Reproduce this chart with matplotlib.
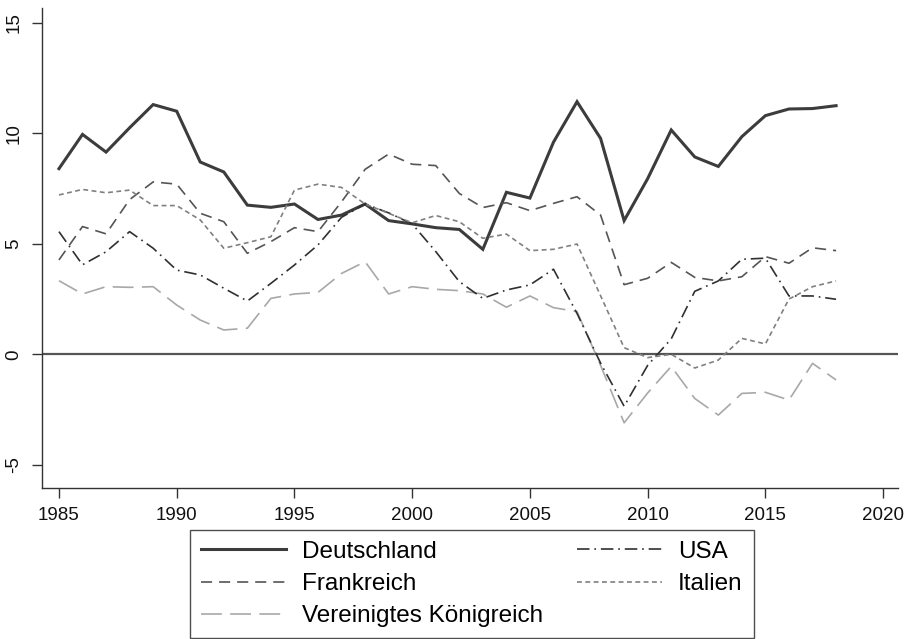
import matplotlib
matplotlib.use("Agg")
import matplotlib.pyplot as plt

plt.rcParams['font.family'] = ['Liberation Sans', 'DejaVu Sans']
plt.rcParams['lines.scale_dashes'] = False

years = list(range(1985, 2019))
deutschland = [8.4, 9.95, 9.15, 10.25, 11.3, 11.0, 8.7, 8.25, 6.75, 6.65,
               6.8, 6.1, 6.3, 6.8, 6.05, 5.9, 5.73, 5.65, 4.75, 7.33,
               7.07, 9.6, 11.43, 9.77, 6.05, 7.95, 10.15, 8.93, 8.5, 9.85,
               10.8, 11.1, 11.12, 11.25]
frankreich = [4.27, 5.78, 5.45, 7.0, 7.8, 7.7, 6.38, 6.0, 4.57, 5.1,
              5.73, 5.55, 6.9, 8.37, 9.06, 8.6, 8.54, 7.28, 6.64, 6.86,
              6.5, 6.83, 7.13, 6.3, 3.15, 3.44, 4.16, 3.48, 3.32, 3.51,
              4.42, 4.12, 4.82, 4.69]
usa = [5.55, 4.05, 4.64, 5.55, 4.8, 3.81, 3.59, 2.99, 2.41, 3.21,
       4.04, 4.95, 6.2, 6.8, 6.4, 5.9, 4.65, 3.29, 2.53, 2.91,
       3.14, 3.85, 1.85, -0.4, -2.35, -0.5, 0.7, 2.85, 3.32, 4.3,
       4.35, 2.64, 2.64, 2.49]
italien = [7.21, 7.46, 7.31, 7.43, 6.73, 6.73, 6.08, 4.8, 5.05, 5.32,
           7.43, 7.7, 7.55, 6.8, 6.38, 5.95, 6.28, 6.0, 5.25, 5.44,
           4.69, 4.75, 4.99, 2.65, 0.3, -0.15, 0.0, -0.62, -0.26, 0.72,
           0.47, 2.5, 3.06, 3.32]
uk = [3.33, 2.73, 3.06, 3.03, 3.06, 2.23, 1.55, 1.1, 1.18, 2.53,
      2.73, 2.8, 3.66, 4.19, 2.73, 3.06, 2.94, 2.88, 2.73, 2.13,
      2.64, 2.11, 1.93, -0.5, -3.1, -1.75, -0.55, -2.0, -2.75, -1.77,
      -1.72, -2.07, -0.41, -1.16]

labels = ["Deutschland", "Frankreich", "Vereinigtes Königreich", "USA", "Italien"]
xticks = [1985, 1990, 1995, 2000, 2005, 2010, 2015, 2020]
yticks = [-5, 0, 5, 10, 15]

fig = plt.figure(figsize=(9.11, 6.39), dpi=100)
ax = fig.add_axes([42/911, (639-488)/639, (898-42)/911, (488-8)/639])

ax.axhline(0, color='#555555', lw=1.6, zorder=1)

l_de, = ax.plot(years, deutschland, color='#3c3c3c', lw=2.2, solid_joinstyle='miter')
l_fr, = ax.plot(years, frankreich, color='#555555', lw=1.2, linestyle=(0, (8, 5)))
l_uk, = ax.plot(years, uk, color='#a8a8a8', lw=1.2, linestyle=(0, (15, 6)))
l_us, = ax.plot(years, usa, color='#303030', lw=1.2, linestyle=(0, (9, 3.5, 1.2, 3.5)))
l_it, = ax.plot(years, italien, color='#808080', lw=1.2, linestyle=(0, (3.5, 2.5)))

ax.set_xlim(1984.28, 2020.63)
ax.set_ylim(-6.05, 15.67)
ax.set_xticks(xticks)
ax.set_yticks(yticks)
ax.set_yticklabels([str(v) for v in yticks], rotation=90, va='center')
ax.tick_params(axis='both', direction='out', length=7, width=1, colors='#333333',
               labelsize=13.5, labelcolor='#111111')
ax.tick_params(axis='x', pad=7)
ax.tick_params(axis='y', pad=7)

for s in ['top', 'right']:
    ax.spines[s].set_visible(False)
for s in ['left', 'bottom']:
    ax.spines[s].set_color('#333333')
    ax.spines[s].set_linewidth(1.0)

leg = fig.legend([l_de, l_fr, l_uk, l_us, l_it], labels, ncol=2,
                 loc='upper center', bbox_to_anchor=(472/911, (639-530)/639),
                 borderaxespad=0,
                 fontsize=17.5, frameon=True, fancybox=False, edgecolor='#222222',
                 handlelength=3.5, handletextpad=0.65, columnspacing=1.4,
                 labelspacing=0.42, borderpad=0.45)
leg.get_frame().set_linewidth(1.0)

fig.savefig('out.png', dpi=100, facecolor='white')
